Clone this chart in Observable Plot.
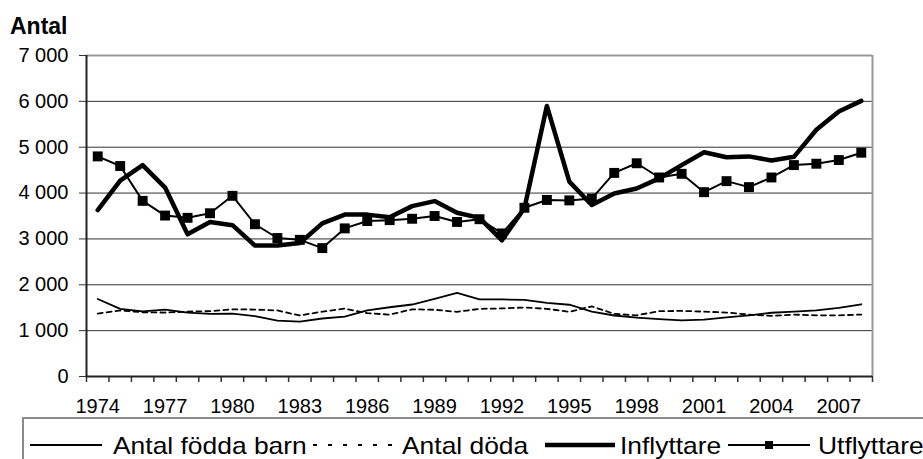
<!DOCTYPE html>
<html>
<head>
<meta charset="utf-8">
<script src="https://cdn.jsdelivr.net/npm/d3@7"></script>
<script src="https://cdn.jsdelivr.net/npm/@observablehq/plot@0.6"></script>
<style>
  body { margin: 0; background: #fff; font-family: "Liberation Sans", Arial, sans-serif; }
  #wrap { position: relative; width: 923px; height: 459px; overflow: hidden; background: #fff; }
  #title { position: absolute; left: 10px; top: 15px; font-size: 23px; font-weight: bold; line-height: 1; color: #000; }
  #chart { position: absolute; left: 0; top: 40px; }
  #legend { position: absolute; left: 22px; top: 417px; width: 960px; height: 60px; border: 2px solid #8a8a8a; box-sizing: border-box; background: #fff; }
  .lt { position: absolute; top: 15px; font-size: 24px; line-height: 1; white-space: nowrap; transform: scaleX(1.1); transform-origin: left center; color: #000; }
  .ls { position: absolute; top: 20px; }
</style>
</head>
<body>
<div id="wrap">
  <div id="title">Antal</div>
  <div id="chart"></div>
  <div id="legend"></div>
</div>
<script>
const years = [1974,1975,1976,1977,1978,1979,1980,1981,1982,1983,1984,1985,1986,1987,1988,1989,1990,1991,1992,1993,1994,1995,1996,1997,1998,1999,2000,2001,2002,2003,2004,2005,2006,2007,2008];
const fodda = [1690,1475,1420,1460,1395,1365,1370,1315,1220,1195,1265,1305,1440,1510,1570,1695,1825,1680,1680,1670,1605,1565,1415,1330,1285,1250,1225,1240,1290,1335,1390,1415,1440,1495,1575];
const doda = [1370,1440,1400,1395,1415,1425,1465,1460,1440,1330,1415,1480,1380,1350,1465,1455,1410,1475,1485,1505,1475,1410,1530,1365,1335,1425,1430,1415,1395,1350,1320,1350,1335,1335,1350];
const inflyttare = [3630,4270,4610,4120,3100,3370,3300,2855,2855,2910,3340,3530,3530,3475,3715,3825,3570,3460,2970,3670,5900,4250,3740,3990,4100,4320,4610,4890,4780,4800,4710,4790,5380,5780,6010];
const utflyttare = [4800,4590,3830,3510,3460,3560,3940,3320,3020,2980,2800,3230,3390,3410,3440,3500,3370,3430,3120,3680,3850,3840,3880,4440,4650,4340,4420,4020,4260,4130,4340,4610,4640,4720,4880];
const seriesNames = ["Antal födda barn", "Antal döda", "Inflyttare", "Utflyttare"];
const xTickLabels = [1974,1977,1980,1983,1986,1989,1992,1995,1998,2001,2004,2007];
const yTicks = [0,1000,2000,3000,4000,5000,6000,7000];

const table = vals => years.map((yr, i) => ({year: yr, value: vals[i]}));
const bounds = years.map(y => y - 0.5).concat([years[years.length - 1] + 0.5]);
const xmin = bounds[0], xmax = bounds[bounds.length - 1];
const ymax = yTicks[yTicks.length - 1];
const fmt = d3.formatLocale({decimal: ",", thousands: " ", grouping: [3], currency: ["", ""]}).format(",");

const styles = [
  {stroke: "#000", strokeWidth: 1.8},
  {stroke: "#000", strokeWidth: 1.8, strokeDasharray: "5,4"},
  {stroke: "#000", strokeWidth: 4.5},
  {stroke: "#000", strokeWidth: 2}
];
const datasets = [fodda, doda, inflyttare, utflyttare];

const chart = Plot.plot({
  width: 923,
  height: 378,
  marginTop: 15,
  marginBottom: 42,
  marginLeft: 86,
  marginRight: 51,
  style: {fontFamily: "Liberation Sans, Arial, sans-serif", fontSize: "20px", color: "#000", background: "#fff", overflow: "visible"},
  x: {domain: [xmin, xmax]},
  y: {domain: [0, ymax]},
  marks: [
    Plot.gridY(yTicks, {stroke: "#333", strokeOpacity: 1, strokeWidth: 1}),
    Plot.ruleY([ymax], {stroke: "#999", strokeWidth: 2}),
    Plot.ruleX([xmax], {stroke: "#999", strokeWidth: 2}),
    Plot.axisY(yTicks, {tickSize: 7, tickPadding: 11, tickFormat: fmt, label: null, stroke: "#333", fontSize: 20}),
    Plot.axisX(bounds, {tickSize: 6, tickFormat: () => "", label: null, stroke: "#333", strokeWidth: 1.5}),
    Plot.axisX(xTickLabels, {tickSize: 0, tickPadding: 22, tickFormat: d => String(d), label: null, fontSize: 20}),
    ...datasets.map((vals, k) => Plot.line(table(vals), {x: "year", y: "value", ...styles[k], strokeLinejoin: "round", strokeLinecap: "round"})),
    Plot.dot(table(utflyttare), {x: "year", y: "value", symbol: "square", r: 5.6, fill: "#000", stroke: "none"}),
    Plot.ruleX([xmin], {stroke: "#222", strokeWidth: 2}),
    Plot.ruleY([0], {stroke: "#222", strokeWidth: 2})
  ]
});
document.getElementById("chart").appendChild(chart);

// legend
const legend = document.getElementById("legend");
const samplesX = [30, 313, 545, 728];
const textsX = [113, 402, 620, 818];
const ns = "http://www.w3.org/2000/svg";
seriesNames.forEach((name, k) => {
  const left0 = 24; // legend left + border
  const s = document.createElementNS(ns, "svg");
  const w = (k === 0 ? 72 : k === 1 ? 82 : k === 2 ? 70 : 82);
  s.setAttribute("width", w);
  s.setAttribute("height", 12);
  s.setAttribute("class", "ls");
  s.style.left = (samplesX[k] - left0) + "px";
  const ln = document.createElementNS(ns, "line");
  ln.setAttribute("x1", 0); ln.setAttribute("x2", w);
  ln.setAttribute("y1", 6); ln.setAttribute("y2", 6);
  ln.setAttribute("stroke", "#000");
  ln.setAttribute("stroke-width", k === 2 ? 4.5 : 2.2);
  if (styles[k].strokeDasharray) ln.setAttribute("stroke-dasharray", "4,11");
  s.appendChild(ln);
  if (k === 3) {
    const r = document.createElementNS(ns, "rect");
    r.setAttribute("x", w / 2 - 4); r.setAttribute("y", 2);
    r.setAttribute("width", 8); r.setAttribute("height", 8);
    r.setAttribute("fill", "#000");
    s.appendChild(r);
  }
  legend.appendChild(s);
  const t = document.createElement("span");
  t.className = "lt";
  t.textContent = name;
  t.style.left = (textsX[k] - left0) + "px";
  legend.appendChild(t);
});
</script>
</body>
</html>
